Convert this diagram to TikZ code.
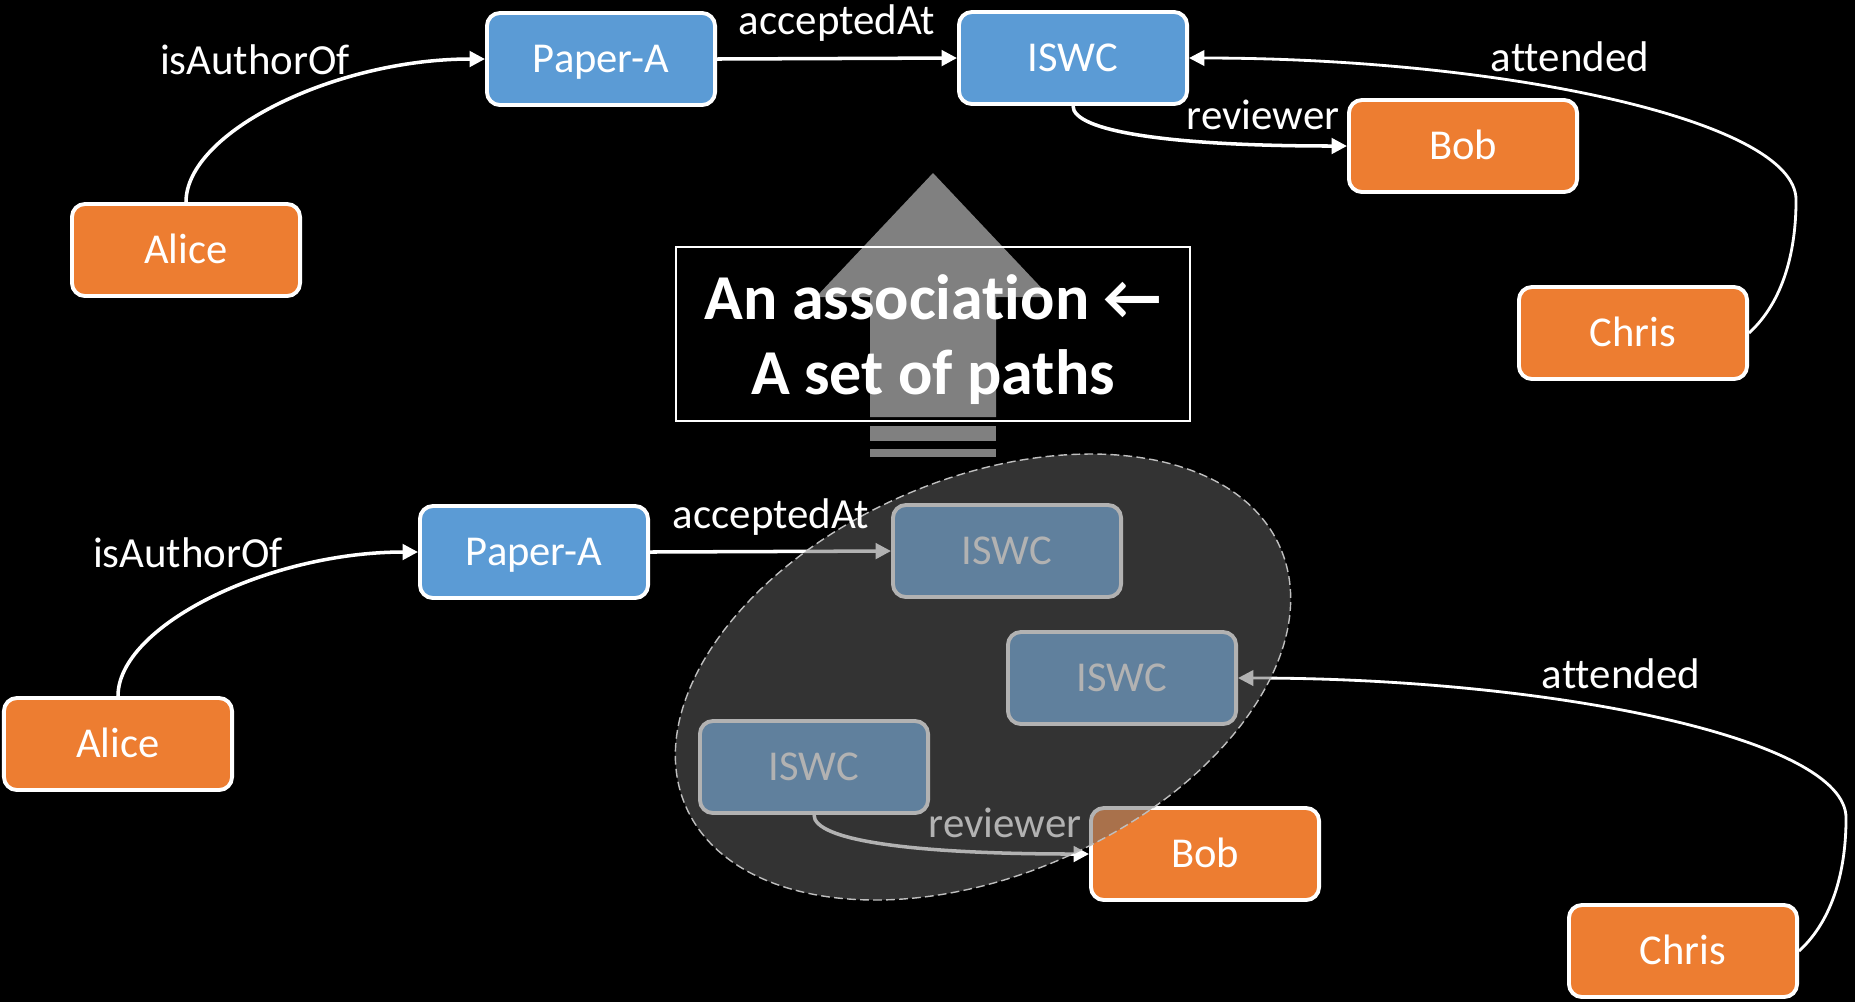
\documentclass[tikz,border=0pt]{standalone}
\usepackage{fontspec}
\setmainfont{Carlito}[Ligatures={NoCommon,NoContextual,NoRequired},Contextuals=NoAlternate]
\usetikzlibrary{arrows.meta,shapes.geometric}
\definecolor{persC}{HTML}{ED7D31}
\definecolor{venC}{HTML}{5B9BD5}
\begin{document}
\begin{tikzpicture}[x=0.01cm,y=-0.01cm,
  ent/.style={draw=white,line width=1.1pt,rounded corners=3.7pt,minimum width=2.28cm,minimum height=0.92cm,text=white,font=\fontsize{12.1}{14}\selectfont,text height=7.8pt,text depth=0pt,inner sep=0pt},
  pers/.style={ent,fill=persC},
  venue/.style={ent,fill=venC},
  lbl/.style={text=white,font=\fontsize{12.2}{14}\selectfont,anchor=base,inner sep=0pt},
  rel/.style={draw=white,line width=1pt,-{Triangle[length=4.4pt,width=4.4pt]}},
  pathset/.style={ellipse,draw=black!25,dash pattern=on 2.5pt off 1.2pt,line width=0.4pt,fill=black!60,fill opacity=0.5,minimum width=6.48cm,minimum height=3.96cm,inner sep=0pt}]
\fill[black] (0,0) rectangle (1855,1002);
\useasboundingbox (0,0) rectangle (1855,1002);
\fill[black!50] (933,173) -- (1050,297) -- (996,297) -- (996,417) -- (870,417) -- (870,297) -- (816,297) -- cycle;
\fill[black!50] (870,426) rectangle (996,441);
\fill[black!50] (870,449) rectangle (996,457);
\node[draw=white,line width=0.6pt,minimum width=5.14cm,minimum height=1.74cm,inner sep=0pt] (assoc) at (933,334) {};
\node[text=white,font=\fontsize{18.2}{21.3}\selectfont\bfseries,align=center,inner sep=0pt] (assoctxt) at ([yshift=-0.06cm]assoc.center) {An association ←\\A set of paths};
\node[pers] (al1) at (186,250) {Alice};
\node[venue] (pa1) at (601,59) {Paper-A};
\node[venue] (is1) at (1073,58) {ISWC};
\node[pers] (bo1) at (1463,146) {Bob};
\node[pers] (ch1) at (1633,333) {Chris};
\coordinate (bend1) at ([shift={(0.47cm,1.33cm)}]ch1.east);
\draw[rel] (al1.north) .. controls +(0,-70) and +(-150,0) .. (pa1.west);
\draw[rel] (pa1.east) -- (is1.west);
\draw[rel] (is1.south) .. controls +(0,25) and +(-180,0) .. (bo1.west);
\draw[rel,line width=0.8pt] (ch1.east) .. controls +(35,-32) and +(0,50) .. (bend1) .. controls +(0,-80) and +(311,0) .. (is1.east);
\node[lbl] (l1) at (255,74) {isAuthorOf};
\node[lbl] (l2) at (837,34) {acceptedAt};
\node[lbl] (l3) at (1263,129) {reviewer};
\node[lbl] (l4) at (1570,71) {attended};
\node[pers] (al2) at (118,744) {Alice};
\node[venue] (pa2) at (534,552) {Paper-A};
\node[venue] (is2a) at (1007,551) {ISWC};
\node[venue] (is2b) at (1122,678) {ISWC};
\node[venue] (is2c) at (814,767) {ISWC};
\node[pers] (bo2) at (1205,854) {Bob};
\node[pers] (ch2) at (1683,951) {Chris};
\coordinate (bend2) at ([shift={(0.47cm,1.33cm)}]ch2.east);
\draw[rel] (al2.north) .. controls +(0,-70) and +(-150,0) .. (pa2.west);
\draw[rel] (pa2.east) -- (is2a.west);
\draw[rel] (is2c.south) .. controls +(0,25) and +(-180,0) .. (bo2.west);
\draw[rel,line width=0.8pt] (ch2.east) .. controls +(35,-32) and +(0,50) .. (bend2) .. controls +(0,-80) and +(311,0) .. (is2b.east);
\node[lbl] (l5) at (188,567) {isAuthorOf};
\node[lbl] (l6) at (1005,837) {reviewer};
\node[pathset,rotate=23.5] (grp) at (983,677) {};
\node[lbl] (l7) at (771,528) {acceptedAt};
\node[lbl] (l8) at (1621,688) {attended};
\end{tikzpicture}
\end{document}
